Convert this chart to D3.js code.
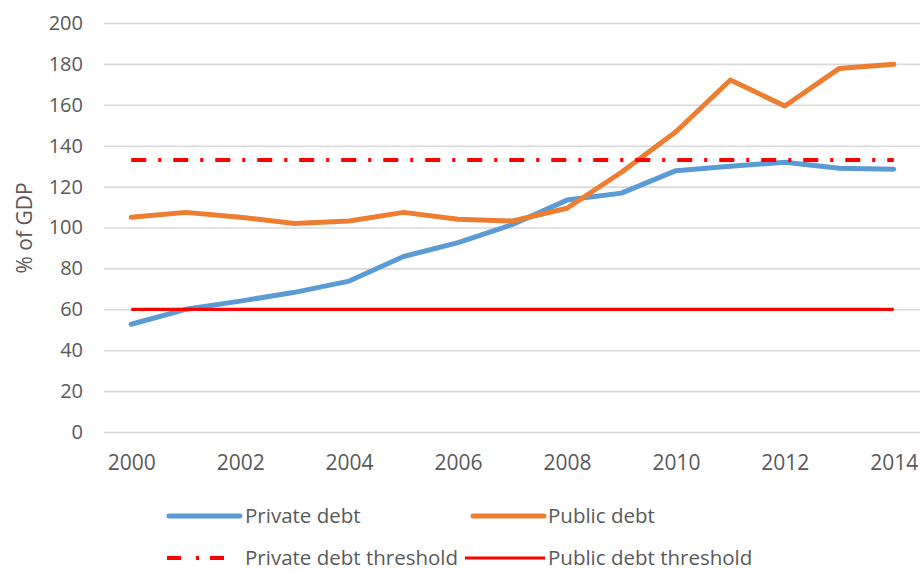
<!DOCTYPE html>
<html>
<head>
<meta charset="utf-8">
<script src="https://cdn.jsdelivr.net/npm/d3@7"></script>
<style>
  html, body { margin: 0; padding: 0; background: #fff; }
  svg { display: block; font-family: "Open Sans", sans-serif; }
</style>
</head>
<body>
<svg id="chart" width="920" height="571"></svg>
<script>
const years = [2000, 2001, 2002, 2003, 2004, 2005, 2006, 2007, 2008, 2009, 2010, 2011, 2012, 2013, 2014];
const privateDebt = [52.7, 60, 64, 68.3, 73.8, 85.8, 92.6, 101.5, 113.4, 116.8, 127.8, 130, 131.9, 129, 128.5];
const publicDebt = [105, 107.4, 105, 102, 103.2, 107.4, 104, 103.2, 109.4, 127, 146.8, 172.1, 159.4, 177.8, 179.8];
const privateThreshold = 133;
const publicThreshold = 60;
const yTicks = [0, 20, 40, 60, 80, 100, 120, 140, 160, 180, 200];
const xTickLabels = [2000, 2002, 2004, 2006, 2008, 2010, 2012, 2014];
const seriesNames = ["Private debt", "Public debt", "Private debt threshold", "Public debt threshold"];

const svg = d3.select("#chart");
const x = d3.scaleLinear().domain([1999.5, 2014.5]).range([104, 921]);
const y = d3.scaleLinear().domain([0, 200]).range([432, 23]);
const textColor = "#595959";
const font = "'Open Sans', sans-serif";

// Gridlines
svg.append("g")
  .attr("transform", "translate(104,0)")
  .call(d3.axisLeft(y).tickValues(yTicks).tickSize(-(921 - 104)).tickFormat(""))
  .call(g => g.select(".domain").remove())
  .call(g => g.selectAll("line").attr("stroke", "#d9d9d9").attr("stroke-width", 1.6));

// Y tick labels
svg.append("g")
  .attr("transform", "translate(91,0)")
  .call(d3.axisLeft(y).tickValues(yTicks).tickSize(0).tickPadding(8))
  .call(g => g.select(".domain").remove())
  .call(g => g.selectAll("text").attr("fill", textColor).attr("font-size", 20).attr("font-family", font));

// X tick labels
svg.append("g")
  .attr("transform", "translate(0,447)")
  .call(d3.axisBottom(x).tickValues(xTickLabels).tickSize(0).tickPadding(8).tickFormat(d3.format("d")))
  .call(g => g.select(".domain").remove())
  .call(g => g.selectAll("text").attr("fill", textColor).attr("font-size", 21).attr("font-family", font));

// Y title
svg.append("text")
  .attr("transform", "translate(32,228) rotate(-90)")
  .attr("text-anchor", "middle")
  .attr("fill", textColor)
  .attr("font-size", 21)
  .text("% of GDP");

const line = d3.line().x((d, i) => x(years[i])).y(d => y(d));

svg.append("path").datum(privateDebt)
  .attr("d", line).attr("fill", "none").attr("stroke", "#5b9bd5")
  .attr("stroke-width", 5).attr("stroke-linejoin", "round").attr("stroke-linecap", "round");

svg.append("path").datum(publicDebt)
  .attr("d", line).attr("fill", "none").attr("stroke", "#ed7d31")
  .attr("stroke-width", 5).attr("stroke-linejoin", "round").attr("stroke-linecap", "round");

svg.append("path").datum(years.map(() => privateThreshold))
  .attr("d", line).attr("fill", "none").attr("stroke", "#ff0000")
  .attr("stroke-width", 4).attr("stroke-dasharray", "15,12,3,12");

svg.append("path").datum(years.map(() => publicThreshold))
  .attr("d", line).attr("fill", "none").attr("stroke", "#ff0000")
  .attr("stroke-width", 3.2);

// Legend
const legendItems = [
  { name: seriesNames[0], color: "#5b9bd5", w: 5, dash: null, cap: "round", x1: 169, x2: 240, tx: 245, ty: 516 },
  { name: seriesNames[1], color: "#ed7d31", w: 5, dash: null, cap: "round", x1: 473, x2: 544, tx: 548, ty: 516 },
  { name: seriesNames[2], color: "#ff0000", w: 4, dash: "14,15,3,11", cap: "butt", x1: 167, x2: 225, tx: 245, ty: 558 },
  { name: seriesNames[3], color: "#ff0000", w: 3.2, dash: null, cap: "butt", x1: 465, x2: 545, tx: 548, ty: 558 }
];
const lg = svg.append("g");
legendItems.forEach(it => {
  lg.append("line").attr("x1", it.x1).attr("x2", it.x2).attr("y1", it.ty).attr("y2", it.ty)
    .attr("stroke", it.color).attr("stroke-width", it.w).attr("stroke-linecap", it.cap)
    .attr("stroke-dasharray", it.dash);
  lg.append("text").attr("x", it.tx).attr("y", it.ty).attr("dy", "0.32em")
    .attr("fill", textColor).attr("font-size", 20.5).attr("font-family", font).text(it.name);
});
</script>
</body>
</html>
